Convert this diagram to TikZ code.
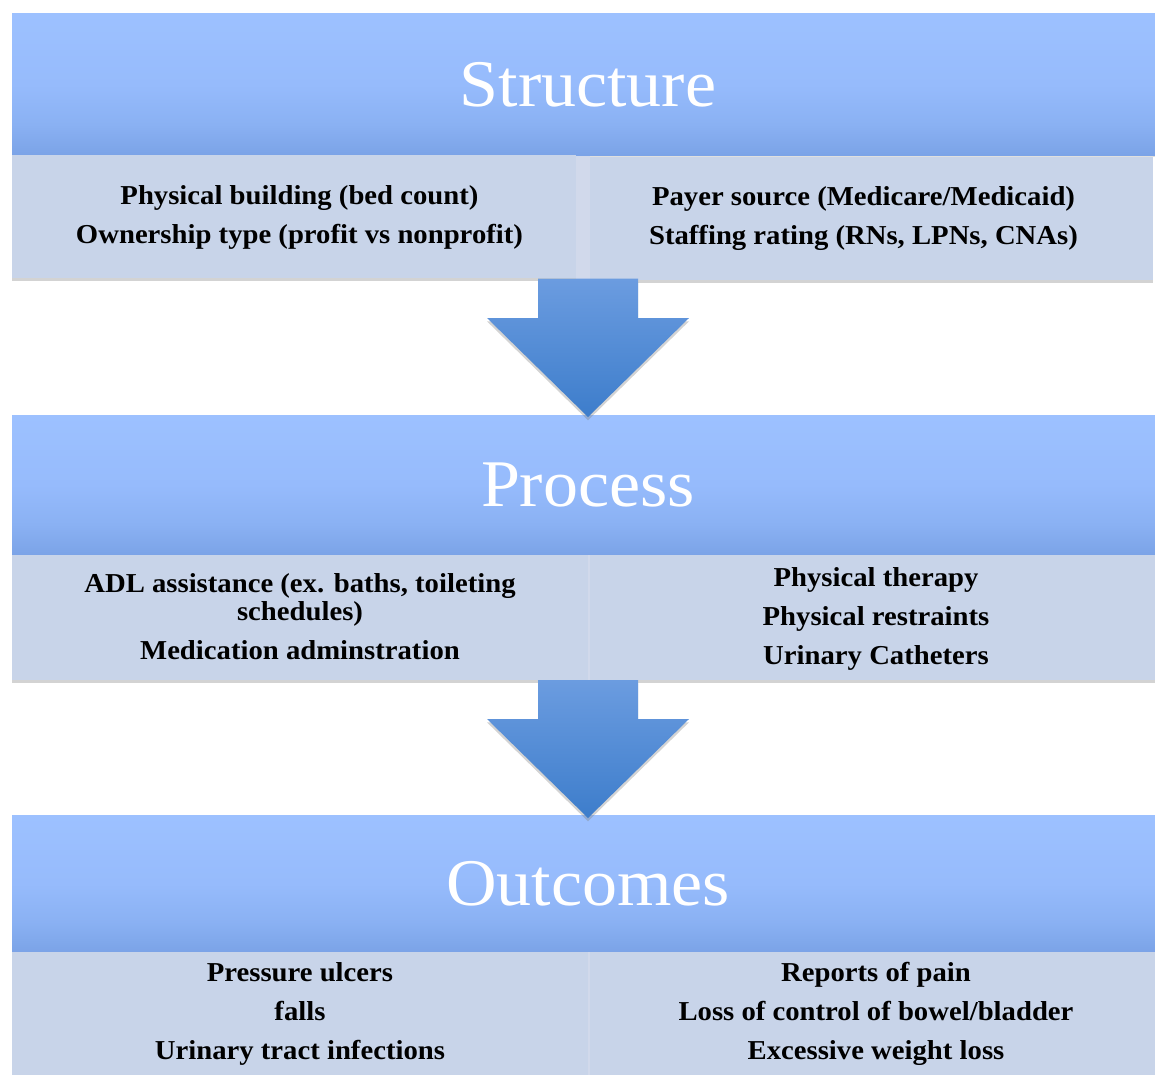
\documentclass[tikz,border=0pt]{standalone}
\usepackage{fontspec}
\setmainfont[FakeStretch=1.05]{Liberation Serif}
\usetikzlibrary{shadows,shadings}
\definecolor{hdrTop}{HTML}{9DC1FF}
\definecolor{hdrMid}{HTML}{96BBFC}
\definecolor{hdrLow}{HTML}{8AB1F3}
\definecolor{hdrBot}{HTML}{7BA3E7}
\definecolor{cellFill}{HTML}{C8D4E9}
\definecolor{seamFill}{HTML}{D1D9EB}
\definecolor{arrTop}{HTML}{6B9CE0}
\definecolor{arrBot}{HTML}{3D7DCB}
\pgfdeclareverticalshading{hdrshade}{100bp}{color(0bp)=(hdrBot); color(25bp)=(hdrBot); color(36bp)=(hdrLow); color(50bp)=(hdrMid); color(75bp)=(hdrTop); color(100bp)=(hdrTop)}
\tikzset{
  header/.style={rectangle, inner sep=0pt, shading=hdrshade,
     text=white, font=\fontsize{50}{52}\selectfont,
     drop shadow={shadow xshift=0pt, shadow yshift=-1.5pt, opacity=0.25}},
  cell/.style={rectangle, inner sep=0pt, fill=cellFill,
     drop shadow={shadow xshift=0pt, shadow yshift=-2.5pt, opacity=0.35}},
  seam/.style={rectangle, inner sep=0pt, fill=seamFill},
  celltext/.style={align=center, inner sep=0pt, font=\bfseries\fontsize{20.5}{21}\selectfont},
  flowarrow/.style={top color=arrTop, bottom color=arrBot,
     drop shadow={shadow xshift=0pt, shadow yshift=-2.5pt, opacity=0.35}}
}
\begin{document}
\begin{tikzpicture}[x=0.75pt, y=-0.75pt]
\useasboundingbox (0,0) rectangle (1155,1074);
\clip (0,0) rectangle (1155,1074);

% ---- Structure ----
\node[header, minimum width=864pt, minimum height=105.75pt] (hS) at (588,84.5) {Structure};
\node[cell, minimum width=423pt, minimum height=92.25pt] (sL) at (294,216.5) {};
\node[seam, minimum width=10.5pt, minimum height=93pt] (sM) at (583,217.5) {};
\node[cell, minimum width=422.25pt, minimum height=92.25pt] (sR) at (871.5,218.5) {};
\node[celltext] (sLt) at (299.5,217) {Physical building (bed count)\\[8.25pt]Ownership type (profit vs nonprofit)};
\node[celltext] (sRt) at (863.5,219) {Payer source (Medicare/Medicaid)\\[8.25pt]Staffing rating (RNs, LPNs, CNAs)};

% ---- Process ----
\node[header, minimum width=864pt, minimum height=105pt] (hP) at (588,485) {Process};
\node[cell, minimum width=432pt, minimum height=93.75pt] (pL) at (300,617.5) {};
\node[cell, minimum width=430.5pt, minimum height=93.75pt] (pR) at (877,617.5) {};
\node[seam, minimum width=1.5pt, minimum height=93.75pt] (pM) at (589,617.5) {};
\node[celltext] (pLt) at (300,617) {ADL assistance (ex. baths, toileting\\schedules)\\[8.25pt]Medication adminstration};
\node[celltext] (pRt) at (876,619) {Physical therapy\\[8.25pt]Physical restraints\\[8.25pt]Urinary Catheters};

% ---- Outcomes ----
\node[header, minimum width=864pt, minimum height=102.75pt] (hO) at (588,883.5) {Outcomes};
\node[cell, minimum width=432pt, minimum height=96pt] (oL) at (300,1016) {};
\node[cell, minimum width=430.5pt, minimum height=96pt] (oR) at (877,1016) {};
\node[seam, minimum width=1.5pt, minimum height=96pt] (oM) at (589,1016) {};
\node[celltext] (oLt) at (300,1014) {Pressure ulcers\\[8.25pt]falls\\[8.25pt]Urinary tract infections};
\node[celltext] (oRt) at (876,1014) {Reports of pain\\[8.25pt]Loss of control of bowel/bladder\\[8.25pt]Excessive weight loss};

% ---- arrows ----
\shade[flowarrow] (538,278.5) -- (638,278.5) -- (638,318) -- (689,318) -- (588,417) -- (487,318) -- (538,318) -- cycle;
\shade[flowarrow] (538,680) -- (638,680) -- (638,719) -- (689,719) -- (588,818) -- (487,719) -- (538,719) -- cycle;
\end{tikzpicture}
\end{document}
